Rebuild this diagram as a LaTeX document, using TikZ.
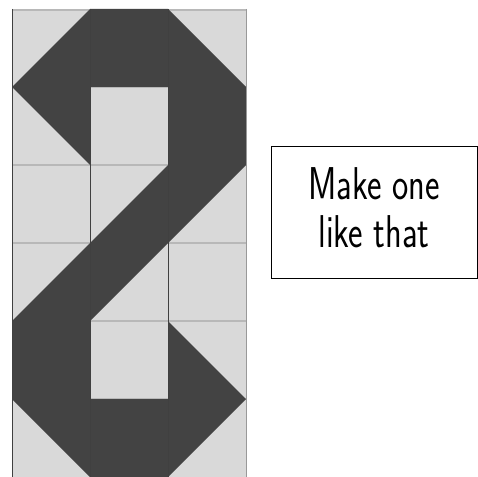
\documentclass[tikz,border=0pt]{standalone}
\usepackage{fontspec}
\newfontfamily\notefont[FakeStretch=0.75]{Latin Modern Sans}
\definecolor{patchlight}{HTML}{D9D9D9}
\definecolor{patchdark}{HTML}{434343}

\begin{document}
\begin{tikzpicture}[
    x=1pt, y=-1pt,
    patch/.style={fill=patchdark},
    seam/.style={draw=black!28, line width=1.6pt},
    stitch/.style={draw=black!75, line width=0.7pt},
    note/.style={draw, line width=0.9pt, minimum width=206pt, minimum height=132pt, align=center, text depth=8pt, font=\notefont\fontsize{46}{48}\selectfont}
]
\useasboundingbox (0,0) rectangle (478,476);

% Quilt block
\fill[patchlight] (12,9) rectangle (246,477);
\foreach \y in {10,87,165,243,321,399}
    \draw[seam] (12,\y) -- (246,\y);
\fill[patch] (12,87) -- (90,9) -- (168,9) -- (246,87) -- (246,165) -- (168,243) -- (90,321)
    -- (90,399) -- (168,399) -- (168,321) -- (246,399) -- (168,477) -- (90,477) -- (12,399)
    -- (12,321) -- (90,243) -- (168,165) -- (168,87) -- (90,87) -- (90,165) -- cycle;
\foreach \x in {12,90,168}
    \draw[stitch] (\x,9) -- (\x,477);
\draw[draw=black!40, line width=0.7pt] (246,9) -- (246,477);

% Note
\node[note] (note) at (374,212) {Make one\\like that};
\end{tikzpicture}
\end{document}
